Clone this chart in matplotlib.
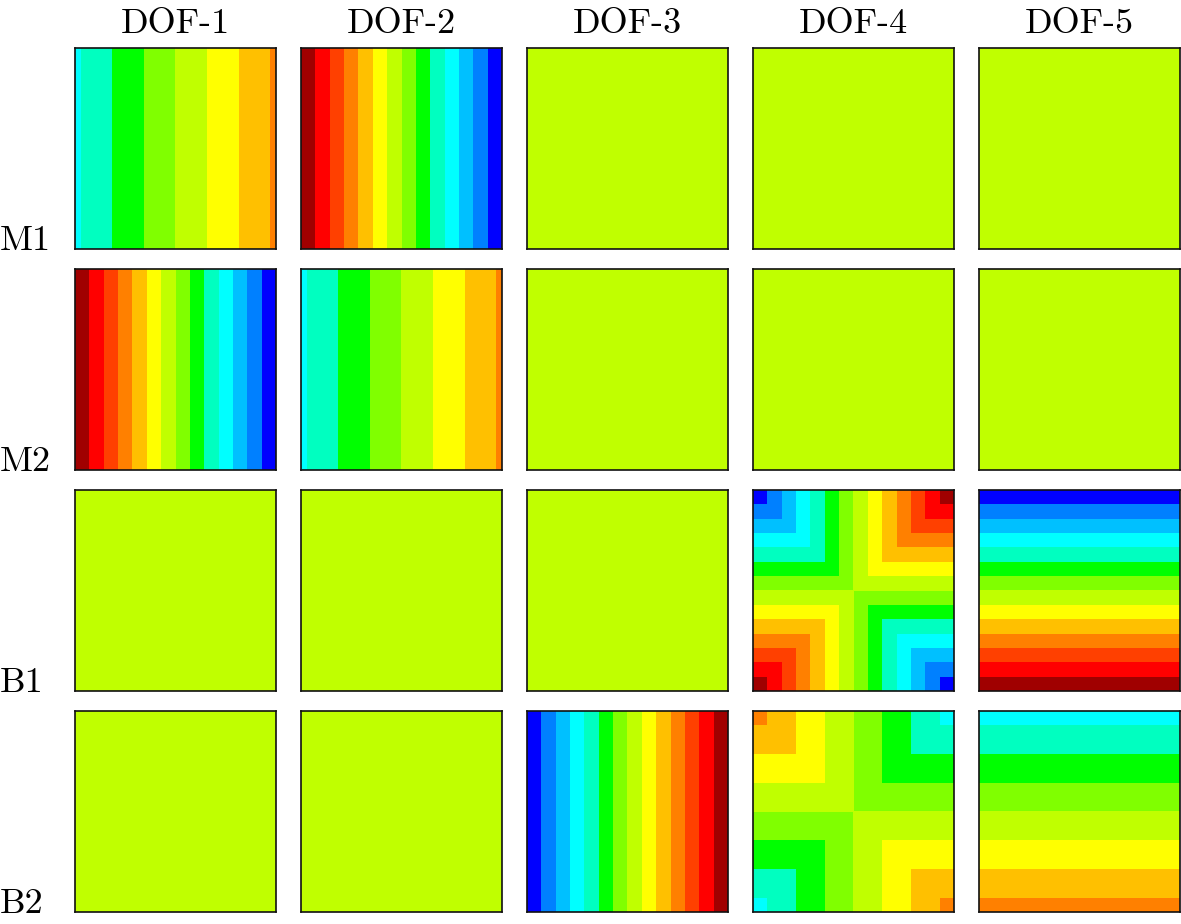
import numpy as np
import matplotlib
matplotlib.use('Agg')
import matplotlib.pyplot as plt
import matplotlib.tri as mtri

plt.rcParams['font.family'] = ['cmr10', 'DejaVu Serif']

# labels
row_labels = ['M1', 'M2', 'B1', 'B2']
col_labels = ['DOF-1', 'DOF-2', 'DOF-3', 'DOF-4', 'DOF-5']

# node coordinates of the element: TL, TR, BR, BL, centre
node_x = [-1, 1, 1, -1, 0]
node_y = [1, 1, -1, -1, 0]
triangles = [[0, 1, 4], [1, 2, 4], [2, 3, 4], [3, 0, 4]]

# nodal values for each panel (TL, TR, BR, BL, centre), one list per row
m1_vals = [[-0.455, 0.455, 0.455, -0.455, 0.0],
           [1.0, -1.0, -1.0, 1.0, 0.0],
           [0.0, 0.0, 0.0, 0.0, 0.0],
           [0.0, 0.0, 0.0, 0.0, 0.0],
           [0.0, 0.0, 0.0, 0.0, 0.0]]
m2_vals = [[1.0, -1.0, -1.0, 1.0, 0.0],
           [-0.455, 0.455, 0.455, -0.455, 0.0],
           [0.0, 0.0, 0.0, 0.0, 0.0],
           [0.0, 0.0, 0.0, 0.0, 0.0],
           [0.0, 0.0, 0.0, 0.0, 0.0]]
b1_vals = [[0.0, 0.0, 0.0, 0.0, 0.0],
           [0.0, 0.0, 0.0, 0.0, 0.0],
           [0.0, 0.0, 0.0, 0.0, 0.0],
           [-1.0, 1.0, -1.0, 1.0, 0.0],
           [-1.0, -1.0, 1.0, 1.0, 0.0]]
b2_vals = [[0.0, 0.0, 0.0, 0.0, 0.0],
           [0.0, 0.0, 0.0, 0.0, 0.0],
           [-1.0, 1.0, 1.0, -1.0, 0.0],
           [0.5, -0.5, 0.5, -0.5, 0.0],
           [-0.5, -0.5, 0.5, 0.5, 0.0]]
all_vals = [m1_vals, m2_vals, b1_vals, b2_vals]

# 14-band jet-like palette, low -> high
band_colors = ['#0000ff', '#0080ff', '#00c0ff', '#00ffff', '#00ffc0', '#00ff00', '#80ff00',
               '#c0ff00', '#ffff00', '#ffc000', '#ff8000', '#ff4000', '#ff0000', '#a00000']

# band edges (shifted a hair so a zero field lands in the upper middle band)
levels = np.linspace(-1, 1, 15) - 1e-9
levels[0] = -1.5
levels[-1] = 1.5

tri = mtri.Triangulation(node_x, node_y, triangles)

W, H = 1181, 924
fig = plt.figure(figsize=(W / 100, H / 100), dpi=100)

col_left = [75, 301, 527, 753, 979]
row_top = [48, 269, 490, 711]
size = 201

for i, row in enumerate(all_vals):
    for j, z in enumerate(row):
        ax = fig.add_axes([col_left[j] / W, 1 - (row_top[i] + size) / H, size / W, size / H])
        ax.tricontourf(tri, np.array(z, dtype=float), levels=levels, colors=band_colors)
        ax.set_xlim(-1, 1)
        ax.set_ylim(-1, 1)
        ax.set_xticks([])
        ax.set_yticks([])
        for sp in ax.spines.values():
            sp.set_linewidth(1.2)
            sp.set_color('#111111')

for j, lab in enumerate(col_labels):
    fig.text((col_left[j] + size / 2) / W, 1 - 33 / H, lab, ha='center', va='baseline', fontsize=26)

for i, lab in enumerate(row_labels):
    fig.text(0.0, 1 - (row_top[i] + size + 1) / H, lab, ha='left', va='baseline', fontsize=26)

fig.savefig('out.png', dpi=100)
